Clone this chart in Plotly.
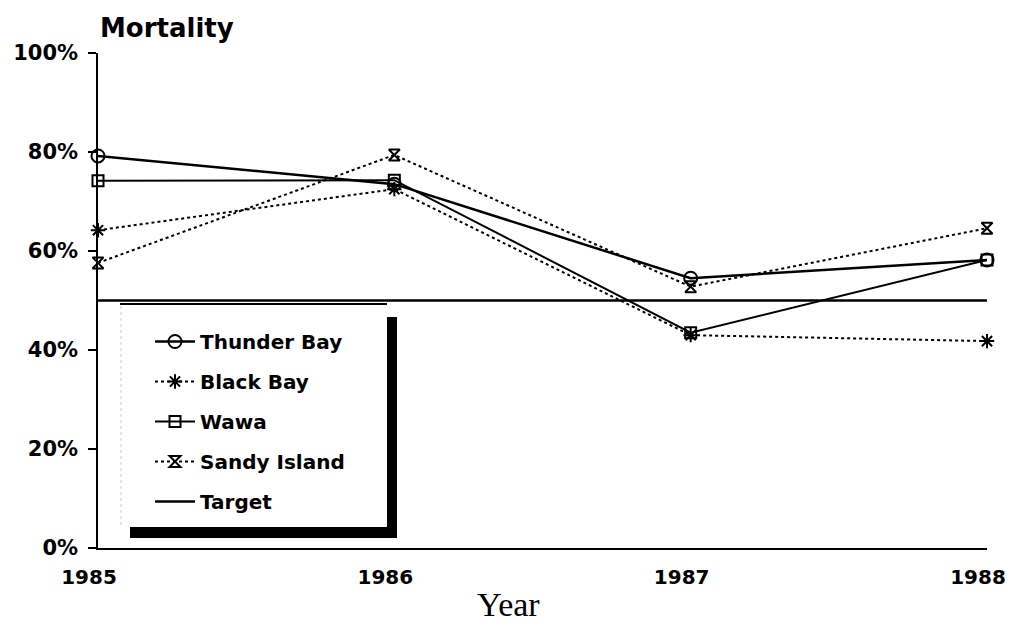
import plotly.graph_objects as go

years = [1985, 1986, 1987, 1988]
year_labels = ["1985", "1986", "1987", "1988"]
thunder_bay = [79.2, 73.5, 54.5, 58.2]
black_bay = [64.2, 72.5, 43.0, 41.8]
wawa = [74.2, 74.3, 43.5, 58.2]
sandy_island = [57.6, 79.4, 52.8, 64.6]
target = [50, 50, 50, 50]
y_ticks = [0, 20, 40, 60, 80, 100]
y_tick_labels = ["0%", "20%", "40%", "60%", "80%", "100%"]

BOLD = "DejaVu Sans"

fig = go.Figure()

series = [
    ("Thunder Bay", thunder_bay, "solid", 2.5, "circle-open", 13),
    ("Black Bay", black_bay, "dot", 2, "asterisk-open", 12),
    ("Wawa", wawa, "solid", 2, "square-open", 11),
    ("Sandy Island", sandy_island, "dot", 2, "hourglass-open", 11),
]
for i, (name, vals, dash, w, sym, sz) in enumerate(series):
    fig.add_trace(go.Scatter(
        x=years, y=vals, name=name, mode="lines+markers",
        line=dict(color="black", width=w, dash=dash),
        marker=dict(symbol=sym, size=sz, color="black", line=dict(width=2, color="black")),
        cliponaxis=False, legendgroup=f"g{i}",
    ))
fig.add_trace(go.Scatter(
    x=years, y=target, name="Target", mode="lines",
    line=dict(color="black", width=2.5), cliponaxis=False, legendgroup="g9",
))

# screen pixel -> paper coords (plot area 98..987 x 53..548 on screen)
def xp(px):
    return (px - 98) / 889

def yp(py):
    return (548 - py) / 495

shapes = [
    dict(type="line", xref="paper", yref="paper", x0=xp(120), x1=xp(387), y0=yp(304), y1=yp(304),
         line=dict(color="black", width=2)),
    dict(type="rect", xref="paper", yref="paper", x0=xp(387), x1=xp(397), y0=yp(317), y1=yp(538),
         fillcolor="black", line=dict(width=0)),
    dict(type="rect", xref="paper", yref="paper", x0=xp(130), x1=xp(397), y0=yp(527), y1=yp(538),
         fillcolor="black", line=dict(width=0)),
    dict(type="line", xref="paper", yref="paper", x0=xp(121), x1=xp(121), y0=yp(306), y1=yp(527),
         line=dict(color="#cccccc", width=1, dash="dot")),
]

fig.update_layout(
    width=1017, height=635,
    margin=dict(l=90, r=38, t=45, b=95, autoexpand=False),
    paper_bgcolor="white", plot_bgcolor="white",
    shapes=shapes,
    showlegend=True,
    legend=dict(
        x=xp(150), y=yp(322), xanchor="left", yanchor="top",
        bgcolor="rgba(0,0,0,0)", borderwidth=0,
        font=dict(family=BOLD, size=20, color="black", weight="bold"),
        itemwidth=40, tracegroupgap=11, traceorder="grouped",
    ),
    xaxis=dict(
        range=[1985, 1988], tickvals=years, ticktext=year_labels, automargin=False,
        showgrid=False, zeroline=False, showline=True, linecolor="black", linewidth=2,
        ticks="", ticklabelstandoff=10, ticklabelshift=-9,
        tickfont=dict(family=BOLD, size=20, color="black", weight="bold"),
    ),
    yaxis=dict(
        range=[0, 100], tickvals=y_ticks, ticktext=y_tick_labels, automargin=False,
        showgrid=False, zeroline=False, showline=True, linecolor="black", linewidth=1.5,
        ticks="outside", ticklen=8, tickcolor="black", tickwidth=1.5, ticklabelstandoff=6,
        tickfont=dict(family=BOLD, size=21, color="black", weight="bold"),
    ),
    annotations=[
        dict(text="Mortality", xref="paper", yref="paper", x=0, y=yp(28), xanchor="left",
             yanchor="middle", showarrow=False,
             font=dict(family=BOLD, size=26, color="black", weight="bold")),
        dict(text="Year", xref="paper", yref="paper", x=xp(508), y=yp(604), xanchor="center",
             yanchor="middle", showarrow=False,
             font=dict(family="Liberation Serif", size=34, color="black")),
    ],
)

fig.write_html("out.html")
